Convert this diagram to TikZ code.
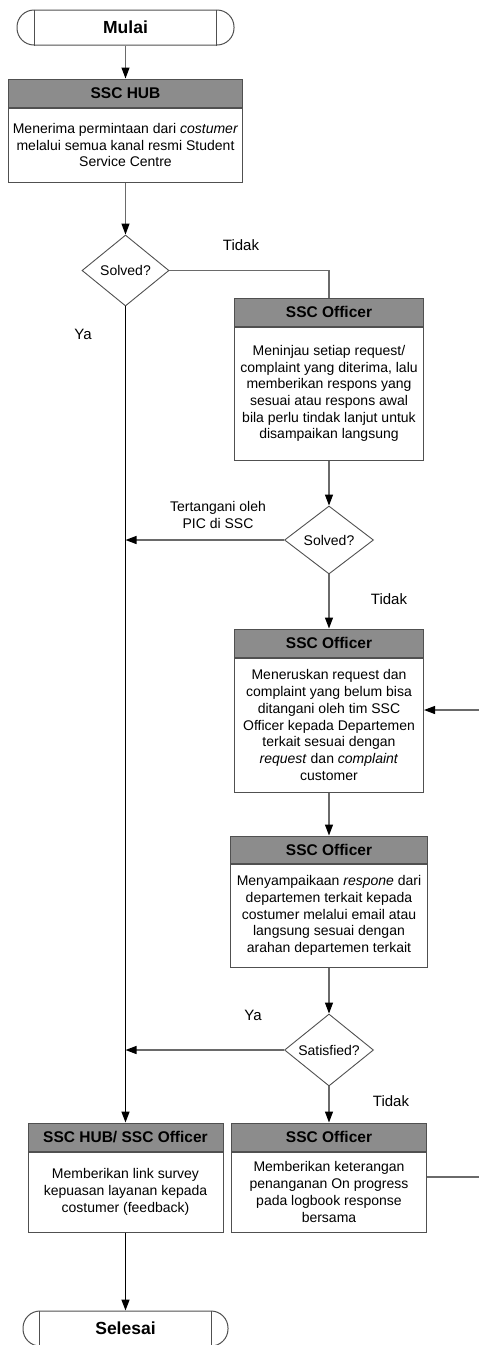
\documentclass[tikz,border=0pt]{standalone}
\usepackage{fontspec}
\setmainfont{Liberation Sans}
\usepackage{tikz}
\usetikzlibrary{positioning, shapes, arrows.meta}

\definecolor{headfill}{HTML}{8C8C8C}
\definecolor{boxline}{HTML}{505050}
\definecolor{linegray}{HTML}{6A6A6A}

\begin{document}
\begin{tikzpicture}[x=1pt, y=-1pt, >={Triangle[length=11pt, width=8pt, color=black]},
    head/.style={rectangle, draw=boxline, fill=headfill, line width=1pt, inner sep=0pt, minimum height=28pt, font=\fontsize{15.5}{18}\selectfont\bfseries},
    body/.style={rectangle, draw=boxline, fill=white, line width=1pt, inner sep=0pt, align=center, font=\fontsize{14}{16.7}\selectfont},
    term/.style={rectangle, rounded corners=17pt, draw=boxline, line width=1pt, minimum height=35pt, font=\fontsize{17.5}{20}\selectfont\bfseries},
    dec/.style={diamond, draw=boxline, line width=0.9pt, inner sep=0pt, font=\fontsize{14}{16}\selectfont},
    lbl/.style={font=\fontsize{15}{17}\selectfont, align=center},
    flow/.style={draw=linegray, line width=1.2pt},
    mainflow/.style={draw=black, line width=1.5pt}]
    \useasboundingbox (0,0) rectangle (479,1345);

    % start
    \node[term, minimum width=217pt] (mulai) at (125.5, 27.5) {Mulai};
    \draw[boxline, line width=1pt] ([xshift=18pt]mulai.north west) -- ([xshift=18pt]mulai.south west);
    \draw[boxline, line width=1pt] ([xshift=-18pt]mulai.north east) -- ([xshift=-18pt]mulai.south east);

    % SSC HUB
    \node[head, minimum width=234pt] (hub-h) at (125.5, 93) {SSC HUB};
    \node[body, minimum width=234pt, minimum height=74pt, below=0pt of hub-h] (hub) {Menerima permintaan dari \textit{costumer}\\ melalui semua kanal resmi Student\\ Service Centre};

    \node[dec, minimum width=87pt, minimum height=71pt] (s1) at (125.5, 270.5) {Solved?};

    % first officer
    \node[head, minimum width=189pt] (off1-h) at (329, 312) {SSC Officer};
    \node[body, minimum width=189pt, minimum height=133pt, below=0pt of off1-h] (off1) {Meninjau setiap request/\\ complaint yang diterima, lalu\\ memberikan respons yang\\ sesuai atau respons awal\\ bila perlu tindak lanjut untuk\\ disampaikan langsung};

    \node[dec, minimum width=89pt, minimum height=68pt] (s2) at (329, 540) {Solved?};

    \node[head, minimum width=189pt] (off2-h) at (329, 643) {SSC Officer};
    \node[body, minimum width=189pt, minimum height=134pt, below=0pt of off2-h] (off2) {Meneruskan request dan\\ complaint yang belum bisa\\ ditangani oleh tim SSC\\ Officer kepada Departemen\\ terkait sesuai dengan\\ \textit{request} dan \textit{complaint}\\ customer};

    \node[head, minimum width=197pt, minimum height=27pt] (off3-h) at (329, 849.5) {SSC Officer};
    \node[body, minimum width=197pt, minimum height=103pt, below=0pt of off3-h] (off3) {Menyampaikaan \textit{respone} dari\\ departemen terkait kepada\\ costumer melalui email atau\\ langsung sesuai dengan\\ arahan departemen terkait};

    \node[dec, minimum width=89pt, minimum height=72pt] (s3) at (329, 1050) {Satisfied?};

    % bottom row
    \node[head, minimum width=195pt] (hub2-h) at (125.5, 1137) {SSC HUB/ SSC Officer};
    \node[body, minimum width=195pt, minimum height=80pt, below=0pt of hub2-h] (hub2) {Memberikan link survey\\ kepuasan layanan kepada\\ costumer (feedback)};

    \node[head, minimum width=195pt] (off4-h) at (329, 1137) {SSC Officer};
    \node[body, minimum width=195pt, minimum height=80pt, below=0pt of off4-h] (off4) {Memberikan keterangan\\ penanganan On progress\\ pada logbook response\\ bersama};

    \node[term, minimum width=205pt] (selesai) at (125.5, 1328.5) {Selesai};
    \draw[boxline, line width=1pt] ([xshift=17pt]selesai.north west) -- ([xshift=17pt]selesai.south west);
    \draw[boxline, line width=1pt] ([xshift=-17pt]selesai.north east) -- ([xshift=-17pt]selesai.south east);

    % labels
    \node[lbl] (l-tidak1) at (241, 245) {Tidak};
    \node[lbl] (l-ya1) at (83, 334) {Ya};
    \node[lbl, font=\fontsize{14}{16.5}\selectfont] (l-pic) at (218, 515) {Tertangani oleh\\ PIC di SSC};
    \node[lbl] (l-tidak2) at (389, 599) {Tidak};
    \node[lbl] (l-ya2) at (253, 1015) {Ya};
    \node[lbl] (l-tidak3) at (391, 1101) {Tidak};

    % loop ends at the right edge
    \coordinate (loopin) at (479, 710);
    \coordinate (loopout) at (479, 1177);

    % connectors
    \path (mulai) edge[flow, ->] (hub-h);
    \path (hub) edge[flow, ->] (s1);
    \draw[flow] (s1.east) -| (off1-h.north);
    \draw[mainflow, ->] (s1.south) -- (hub2-h.north);
    \path (off1) edge[flow, ->] (s2);
    \draw[flow, ->] (s2.west) -- (s2.west -| s1.south);
    \path (s2) edge[flow, ->] (off2-h);
    \draw[flow, ->] (loopin) -- (loopin -| off2.east);
    \path (off2) edge[flow, ->] (off3-h);
    \path (off3) edge[flow, ->] (s3);
    \draw[flow, ->] (s3.west) -- (s3.west -| s1.south);
    \path (s3) edge[flow, ->] (off4-h);
    \draw[flow] (loopout -| off4.east) -- (loopout);
    \draw[mainflow, ->] (hub2) -- (selesai);
\end{tikzpicture}
\end{document}
